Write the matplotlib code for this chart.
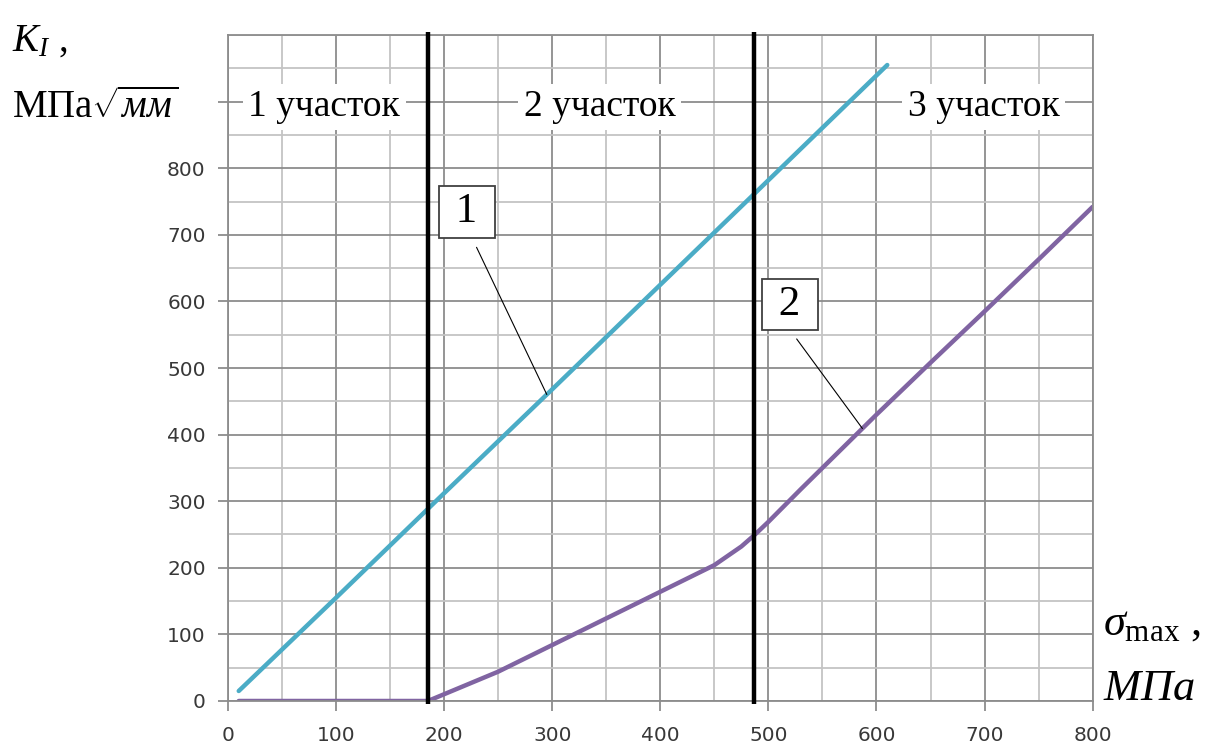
import numpy as np
import matplotlib
matplotlib.use('Agg')
import matplotlib.pyplot as plt
from matplotlib.ticker import MultipleLocator

plt.rcParams['mathtext.fontset'] = 'custom'
plt.rcParams['mathtext.rm'] = 'Liberation Serif'
plt.rcParams['mathtext.it'] = 'Liberation Serif:italic'

# curve 1: linear K_I growth
sigma_1 = [10, 100, 200, 300, 400, 500, 610]
k_1 = [15, 155, 312, 468, 625, 782, 955]

# curve 2: zero up to the first boundary, then bending upward
sigma_2 = [10, 185, 250, 300, 350, 400, 450, 475, 487, 500, 530, 550, 600, 650, 700, 750, 800]
k_2 = [0, 0, 44, 84, 124, 164, 204, 232, 249, 269, 318, 350, 430, 508, 585, 663, 742]

# boundaries between the three zones
boundaries = [185, 487]
zone_names = ['1 участок', '2 участок', '3 участок']
zone_x = [89, 344, 699]

x_ticks = [0, 100, 200, 300, 400, 500, 600, 700, 800]
y_ticks = [0, 100, 200, 300, 400, 500, 600, 700, 800, 900]
y_tick_labels = ['0', '100', '200', '300', '400', '500', '600', '700', '800', '']

serif = 'Liberation Serif'
major_c = '#8c8c8c'
minor_c = '#c4c4c4'

fig = plt.figure(figsize=(12.06, 7.47), dpi=100)
ax = fig.add_axes([0.189, 0.0616, 0.717, 0.8915])
ax.set_xlim(0, 800)
ax.set_ylim(0, 1000)

ax.set_xticks(x_ticks)
ax.set_yticks(y_ticks, labels=y_tick_labels)
ax.xaxis.set_minor_locator(MultipleLocator(50))
ax.yaxis.set_minor_locator(MultipleLocator(50))
ax.grid(which='major', color=major_c, lw=1.3)
ax.grid(which='minor', color=minor_c, lw=1.3)
ax.set_axisbelow(True)
ax.tick_params(which='major', length=7, width=1.3, color=major_c,
               labelsize=14.5, labelcolor='#383838')
ax.tick_params(axis='x', pad=11)
ax.tick_params(axis='y', pad=9)
ax.tick_params(which='minor', length=0)
for s in ax.spines.values():
    s.set_color(major_c)
    s.set_linewidth(1.3)

ax.plot(sigma_1, k_1, color='#4bacc6', lw=3.2, solid_capstyle='round')
ax.plot(sigma_2, k_2, color='#8064a2', lw=3.2, solid_capstyle='round')

ax.vlines(boundaries, -5, 1005, color='black', lw=3.2, clip_on=False, zorder=5)

for name, xc in zip(zone_names, zone_x):
    ax.text(xc, 892, name, fontsize=27, family=serif, ha='center', va='center',
            bbox=dict(boxstyle='square,pad=0.15', fc='white', ec='none'), zorder=4)

# numbered callouts for the two curves
box = dict(boxstyle='square,pad=0.15', fc='white', ec='#404040', lw=1.3)
lead = dict(arrowstyle='-', color='black', lw=0.8, shrinkA=7, shrinkB=0, relpos=(0.55, 0))
ax.annotate(' 1 ', xy=(295, np.interp(295, sigma_1, k_1)), xytext=(221, 734),
            fontsize=31, family=serif, ha='center', va='center',
            bbox=box, arrowprops=lead, zorder=6)
ax.annotate(' 2 ', xy=(587, np.interp(587, sigma_2, k_2)), xytext=(520, 595),
            fontsize=31, family=serif, ha='center', va='center',
            bbox=box, arrowprops=dict(lead, relpos=(0.4, 0)), zorder=6)

# axis captions
fig.text(0.01, 0.945, r'$K_I$ ,', fontsize=28, family=serif, ha='left', va='center')
fig.text(0.01, 0.855, r'МПа$\sqrt{\mathit{мм}}$', fontsize=28, family=serif,
         ha='left', va='center')
fig.text(0.915, 0.165, r'$\sigma_{\rm max}$ ,', fontsize=32, family=serif,
         ha='left', va='center')
fig.text(0.915, 0.078, r'$\mathit{МПа}$', fontsize=32, family=serif,
         ha='left', va='center')

fig.savefig('out.png', dpi=100, facecolor='white')
